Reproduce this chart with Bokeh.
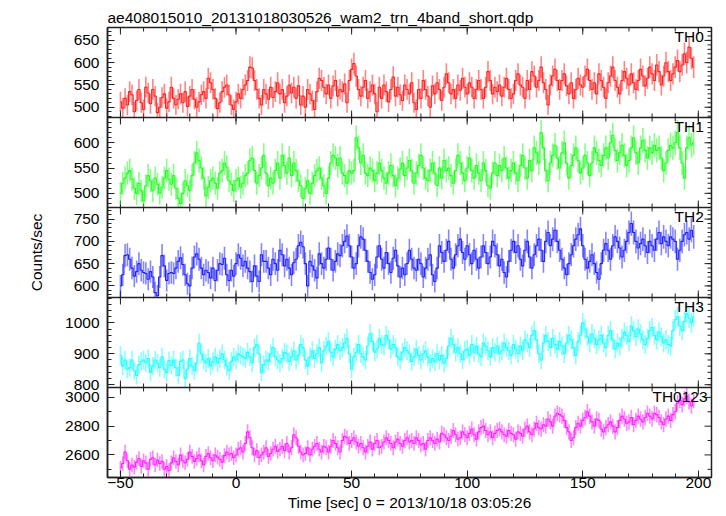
from bokeh.plotting import figure
from bokeh.models import (LinearAxis, Range1d, FixedTicker, Label, ColumnDataSource,
                          CustomJSTickFormatter, Span)
from bokeh.embed import file_html
from bokeh.resources import INLINE
import numpy as np

title_text = "ae408015010_20131018030526_wam2_trn_4band_short.qdp"
x_label = "Time [sec] 0 = 2013/10/18 03:05:26"
y_label = "Counts/sec"

time = list(range(-50, 199))

th0 = [512, 498, 520, 505, 535, 528, 490, 515, 540, 510,
       495, 545, 532, 508, 540, 525, 488, 500, 522, 530,
       498, 512, 545, 520, 505, 518, 530, 510, 535, 502,
       525, 540, 518, 500, 512, 528, 535, 520, 565, 555,
       540, 520, 497, 510, 535, 545, 550, 528, 505, 495,
       512, 530, 520, 540, 550, 560, 590, 588, 560, 540,
       520, 505, 540, 530, 518, 545, 522, 535, 555, 530,
       540, 510, 525, 550, 532, 545, 520, 548, 505, 525,
       500, 540, 530, 515, 495, 535, 565, 560, 545, 530,
       550, 520, 548, 560, 525, 540, 535, 552, 510, 560,
       585, 598, 570, 540, 525, 545, 560, 520, 535, 550,
       530, 490, 545, 520, 550, 535, 512, 540, 568, 525,
       545, 528, 515, 550, 540, 530, 555, 510, 495, 540,
       520, 560, 540, 525, 500, 548, 530, 555, 540, 515,
       545, 575, 555, 530, 540, 520, 550, 538, 565, 545,
       530, 555, 545, 520, 540, 560, 540, 520, 545, 580,
       560, 530, 545, 535, 550, 525, 545, 565, 540, 520,
       530, 560, 575, 550, 545, 520, 560, 540, 580, 570,
       545, 560, 590, 555, 540, 505, 550, 570, 585, 560,
       540, 560, 575, 548, 530, 555, 520, 540, 565, 550,
       545, 570, 585, 560, 540, 555, 530, 575, 560, 545,
       520, 555, 570, 590, 560, 545, 530, 560, 580, 565,
       550, 575, 555, 540, 560, 585, 570, 548, 565, 590,
       575, 560, 595, 580, 550, 570, 600, 580, 560, 575,
       590, 605, 580, 595, 620, 600, 635, 610, 590]

th1 = [500, 520, 530, 540, 545, 528, 510, 500, 520, 505,
       485, 515, 535, 525, 505, 530, 518, 500, 512, 530,
       545, 528, 518, 535, 510, 490, 480, 500, 525, 515,
       505, 535, 560, 580, 565, 550, 530, 495, 512, 525,
       530, 520, 510, 540, 545, 560, 552, 525, 518, 505,
       525, 530, 512, 520, 535, 540, 565, 570, 545, 520,
       535, 550, 575, 540, 515, 530, 520, 545, 560, 530,
       575, 555, 540, 570, 535, 560, 545, 525, 515, 490,
       510, 525, 500, 520, 535, 545, 550, 530, 515, 500,
       530, 560, 575, 570, 555, 570, 540, 535, 520, 545,
       540, 545, 610, 590, 560, 575, 540, 535, 550, 545,
       525, 540, 560, 545, 530, 520, 540, 555, 535, 515,
       530, 548, 560, 535, 550, 565, 545, 520, 540, 555,
       575, 550, 530, 525, 545, 560, 540, 515, 550, 530,
       565, 545, 550, 535, 520, 545, 575, 560, 540, 525,
       550, 570, 545, 530, 555, 540, 525, 560, 545, 515,
       510, 540, 560, 535, 555, 545, 570, 550, 530, 545,
       560, 540, 525, 555, 575, 550, 530, 565, 545, 590,
       580, 560, 620, 590, 545, 525, 560, 575, 595, 570,
       550, 580, 600, 560, 530, 555, 575, 590, 565, 540,
       550, 575, 560, 535, 560, 590, 580, 565, 555, 575,
       590, 570, 600, 615, 585, 565, 580, 595, 575, 555,
       565, 590, 610, 580, 560, 590, 605, 585, 570, 590,
       580, 595, 585, 590, 570, 545, 560, 585, 595, 590,
       600, 620, 590, 560, 530, 590, 610, 595, 600]

th2 = [600, 625, 668, 670, 660, 640, 622, 632, 650, 635,
       630, 628, 615, 632, 620, 585, 578, 620, 668, 645,
       612, 628, 630, 628, 640, 655, 663, 648, 625, 605,
       600, 640, 665, 672, 660, 640, 625, 635, 630, 618,
       640, 612, 635, 650, 648, 662, 625, 612, 635, 622,
       650, 670, 662, 645, 655, 640, 632, 610, 645, 622,
       610, 670, 655, 655, 640, 625, 660, 650, 635, 680,
       670, 645, 660, 640, 625, 652, 660, 690, 698, 688,
       650, 600, 655, 645, 635, 618, 672, 650, 640, 660,
       685, 660, 635, 655, 672, 668, 690, 700, 712, 690,
       665, 640, 650, 690, 710, 705, 680, 655, 630, 615,
       625, 665, 690, 660, 640, 675, 650, 630, 662, 680,
       645, 620, 640, 625, 650, 680, 660, 640, 635, 660,
       650, 620, 640, 660, 670, 625, 610, 640, 690, 675,
       655, 680, 700, 660, 640, 670, 690, 705, 675, 660,
       690, 670, 650, 680, 660, 640, 665, 690, 675, 650,
       665, 700, 690, 670, 645, 660, 630, 620, 655, 680,
       700, 675, 690, 660, 645, 680, 700, 665, 640, 670,
       690, 705, 680, 655, 700, 720, 690, 705, 725, 700,
       680, 660, 640, 625, 650, 670, 690, 705, 715, 728,
       690, 660, 640, 655, 670, 650, 630, 615, 650, 680,
       695, 680, 660, 690, 710, 700, 685, 665, 680, 700,
       720, 740, 720, 700, 685, 695, 705, 690, 675, 700,
       690, 680, 705, 720, 695, 710, 700, 690, 710, 705,
       700, 660, 680, 700, 715, 720, 705, 725, 710]

th3 = [895, 860, 880, 850, 855, 880, 845, 830, 865, 875,
       880, 870, 885, 840, 860, 880, 870, 855, 890, 850,
       840, 878, 862, 880, 855, 830, 875, 880, 820, 850,
       885, 860, 845, 870, 935, 900, 880, 870, 885, 860,
       875, 890, 870, 885, 900, 880, 860, 845, 875, 890,
       880, 900, 895, 890, 885, 905, 890, 870, 920, 930,
       900, 840, 865, 880, 875, 900, 920, 890, 880, 870,
       885, 905, 900, 875, 890, 910, 880, 895, 930, 920,
       880, 860, 890, 910, 885, 900, 920, 870, 910, 925,
       940, 905, 890, 915, 930, 910, 920, 935, 950, 900,
       850, 890, 905, 930, 900, 890, 880, 925, 965, 940,
       905, 915, 950, 930, 925, 960, 945, 915, 930, 920,
       890, 880, 905, 920, 910, 900, 875, 890, 915, 895,
       880, 900, 910, 890, 870, 885, 875, 900, 880, 895,
       870, 885, 925, 950, 930, 905, 920, 900, 880, 910,
       915, 895, 930, 905, 925, 900, 890, 935, 925, 910,
       890, 920, 905, 925, 900, 910, 935, 920, 910, 895,
       930, 915, 900, 925, 910, 945, 935, 920, 960, 975,
       945, 900, 880, 935, 960, 940, 920, 950, 930, 915,
       940, 925, 900, 935, 960, 945, 920, 895, 940, 960,
       1000, 980, 955, 935, 965, 950, 930, 945, 960, 935,
       920, 960, 975, 945, 915, 935, 925, 950, 970, 960,
       940, 990, 975, 955, 980, 965, 945, 930, 950, 975,
       985, 960, 945, 970, 955, 935, 945, 930, 925, 975,
       1010, 1020, 990, 975, 1005, 1030, 1015, 1000, 1020]

th0123 = [2510, 2540, 2620, 2560, 2500, 2530, 2515, 2550, 2575, 2520,
          2560, 2545, 2500, 2570, 2580, 2530, 2565, 2540, 2555, 2500,
          2520, 2490, 2545, 2580, 2555, 2530, 2600, 2560, 2545, 2570,
          2620, 2590, 2555, 2575, 2600, 2560, 2530, 2590, 2610, 2580,
          2560, 2600, 2585, 2570, 2550, 2595, 2620, 2600, 2610, 2580,
          2600, 2640, 2650, 2620, 2680, 2760, 2720, 2650, 2600, 2630,
          2580, 2600, 2620, 2650, 2590, 2610, 2640, 2660, 2625, 2640,
          2660, 2630, 2680, 2620, 2650, 2740, 2720, 2660, 2620, 2600,
          2610, 2650, 2600, 2640, 2660, 2680, 2640, 2620, 2660, 2650,
          2620, 2660, 2700, 2680, 2650, 2620, 2700, 2730, 2720, 2680,
          2700, 2720, 2690, 2660, 2680, 2650, 2620, 2660, 2690, 2640,
          2680, 2700, 2650, 2660, 2690, 2720, 2700, 2680, 2650, 2690,
          2710, 2680, 2660, 2700, 2720, 2690, 2700, 2680, 2720, 2700,
          2670, 2680, 2640, 2700, 2720, 2700, 2680, 2710, 2690, 2750,
          2740, 2720, 2700, 2730, 2770, 2740, 2710, 2720, 2760, 2740,
          2720, 2750, 2780, 2740, 2710, 2760, 2790, 2800, 2770, 2740,
          2760, 2720, 2750, 2770, 2780, 2760, 2740, 2730, 2770, 2750,
          2740, 2710, 2760, 2750, 2730, 2780, 2800, 2760, 2740, 2780,
          2820, 2790, 2780, 2810, 2800, 2850, 2830, 2800, 2870, 2890,
          2880, 2870, 2840, 2790, 2760, 2700, 2720, 2790, 2820, 2800,
          2840, 2860, 2900, 2870, 2830, 2800, 2850, 2840, 2780, 2760,
          2790, 2810, 2830, 2800, 2760, 2790, 2840, 2870, 2850, 2820,
          2830, 2860, 2810, 2840, 2870, 2850, 2830, 2860, 2890, 2870,
          2850, 2890, 2880, 2860, 2830, 2810, 2850, 2870, 2840, 2880,
          2900, 2960, 2980, 2950, 2990, 3010, 2970, 2940, 2980]

names = ["TH0", "TH1", "TH2", "TH3", "TH0123"]
series = [th0, th1, th2, th3, th0123]
colors = ["#ff2020", "#20ff20", "#2020ff", "#20ffff", "#ff20ff"]
y_ranges = [(477, 679), (472, 650), (574, 776), (791, 1082), (2443, 3069)]
y_major = [[500, 550, 600, 650], [500, 550, 600], [600, 650, 700, 750],
           [800, 900, 1000], [2600, 2800, 3000]]
y_minor = [list(range(480, 680, 10)), list(range(480, 650, 10)),
           list(range(580, 780, 10)), list(range(800, 1081, 20)),
           [2500, 2700, 2900]]
x_major = [-50, 0, 50, 100, 150, 200]
x_minor = list(range(-50, 201, 10))
x_lo, x_hi = -55.6, 205.7

FONT = "Liberation Sans"
FSIZE = "15.5px"
LINE = "#222222"
N = len(series)
FRAME_W, FRAME_H = 604, 450
TOP, BOTTOM, LEFT, RIGHT = 27, 38, 107, 9
MAJ, MIN = 7, 4  # tick lengths in px


def panel_pos(i, v):
    lo, hi = y_ranges[i]
    return (N - 1 - i) + (v - lo) / (hi - lo)


p = figure(frame_width=FRAME_W, frame_height=FRAME_H,
           x_range=Range1d(x_lo, x_hi), y_range=Range1d(0, N),
           output_backend="svg", toolbar_location=None,
           x_axis_location=None, y_axis_location=None,
           min_border_left=LEFT, min_border_right=RIGHT,
           min_border_top=TOP, min_border_bottom=BOTTOM,
           background_fill_color="white", border_fill_color="white")
p.outline_line_color = LINE
p.outline_line_width = 1.5
p.xgrid.visible = False
p.ygrid.visible = False
p.title.text = title_text
p.title.align = "left"
p.title.text_font = FONT
p.title.text_font_size = FSIZE
p.title.text_font_style = "normal"
p.title.text_color = "black"
p.title.standoff = 4

extra = {}
for i in range(N):
    lo, hi = y_ranges[i]
    span = hi - lo
    extra["p%d" % i] = Range1d(lo - (N - 1 - i) * span, hi + i * span)
p.extra_y_ranges = extra

tick_pos, tick_lab, minor_pos = [], [], []
for i in range(N):
    lo, hi = y_ranges[i]
    for v in y_major[i]:
        tick_pos.append(panel_pos(i, v))
        tick_lab.append(str(v))
    for v in y_minor[i]:
        if lo < v < hi:
            minor_pos.append(panel_pos(i, v))

left = LinearAxis(ticker=FixedTicker(ticks=tick_pos, minor_ticks=minor_pos))
left.formatter = CustomJSTickFormatter(
    args=dict(pos=tick_pos, labs=tick_lab),
    code="""
    for (let k = 0; k < pos.length; k++) {
        if (Math.abs(pos[k] - tick) < 1e-6) { return labs[k]; }
    }
    return "";
    """)
left.major_tick_in = MAJ
left.major_tick_out = 0
left.minor_tick_in = MIN
left.minor_tick_out = 0
left.axis_line_color = LINE
left.axis_line_width = 1.5
left.major_tick_line_color = LINE
left.minor_tick_line_color = LINE
left.major_label_text_font = FONT
left.major_label_text_font_size = FSIZE
left.major_label_text_color = "black"
left.major_label_standoff = 8
left.axis_label = y_label
left.axis_label_text_font = FONT
left.axis_label_text_font_size = FSIZE
left.axis_label_text_font_style = "normal"
left.axis_label_text_color = "black"
left.axis_label_standoff = 17
p.add_layout(left, "left")

bottom = LinearAxis(ticker=FixedTicker(ticks=x_major, minor_ticks=x_minor))
bottom.major_tick_in = MAJ
bottom.major_tick_out = 0
bottom.minor_tick_in = MIN
bottom.minor_tick_out = 0
bottom.axis_line_color = LINE
bottom.axis_line_width = 1.5
bottom.major_tick_line_color = LINE
bottom.minor_tick_line_color = LINE
bottom.major_label_text_font = FONT
bottom.major_label_text_font_size = FSIZE
bottom.major_label_text_color = "black"
bottom.major_label_standoff = 0
bottom.major_label_overrides = {-50: "\u221250"}
bottom.axis_label = x_label
bottom.axis_label_text_font = FONT
bottom.axis_label_text_font_size = FSIZE
bottom.axis_label_text_font_style = "normal"
bottom.axis_label_text_color = "black"
bottom.axis_label_standoff = 3
p.add_layout(bottom, "below")

ypx = N / FRAME_H
xpx = (x_hi - x_lo) / FRAME_W

for b in range(1, N):
    p.add_layout(Span(location=b, dimension="width", line_color=LINE, line_width=1.5))

tx0, ty0, tx1, ty1 = [], [], [], []
for b in range(1, N + 1):
    for xs, ln in ((x_major, MAJ), (x_minor, MIN)):
        for xv in xs:
            tx0.append(xv); ty0.append(b); tx1.append(xv); ty1.append(b - ln * ypx)
            if b < N:
                tx0.append(xv); ty0.append(b); tx1.append(xv); ty1.append(b + ln * ypx)
for i in range(N):
    lo, hi = y_ranges[i]
    for vs, ln in ((y_major[i], MAJ), (y_minor[i], MIN)):
        for v in vs:
            if lo < v < hi:
                yv = panel_pos(i, v)
                tx0.append(x_hi); ty0.append(yv); tx1.append(x_hi - ln * xpx); ty1.append(yv)
p.segment(x0=tx0, y0=ty0, x1=tx1, y1=ty1, line_color=LINE, line_width=1)

for i in range(N):
    lo, hi = y_ranges[i]
    vals = np.array(series[i], dtype=float)
    err = np.sqrt(vals)
    src = ColumnDataSource(dict(t=time, v=vals,
                                lo=np.clip(vals - err, lo, hi),
                                hi=np.clip(vals + err, lo, hi)))
    rn = "p%d" % i
    p.segment(x0="t", y0="lo", x1="t", y1="hi", source=src, y_range_name=rn,
              line_color=colors[i], line_alpha=0.55, line_width=1.6)
    p.step(x="t", y="v", source=src, mode="center", y_range_name=rn,
           line_color=colors[i], line_width=1.1)
    p.add_layout(Label(x=204.0 if i == N - 1 else 202.4, y=N - i, text=names[i],
                       text_align="right", text_baseline="top",
                       text_font=FONT, text_font_size=FSIZE, text_color="black"))

open("out.html", "w").write(file_html(p, INLINE))
